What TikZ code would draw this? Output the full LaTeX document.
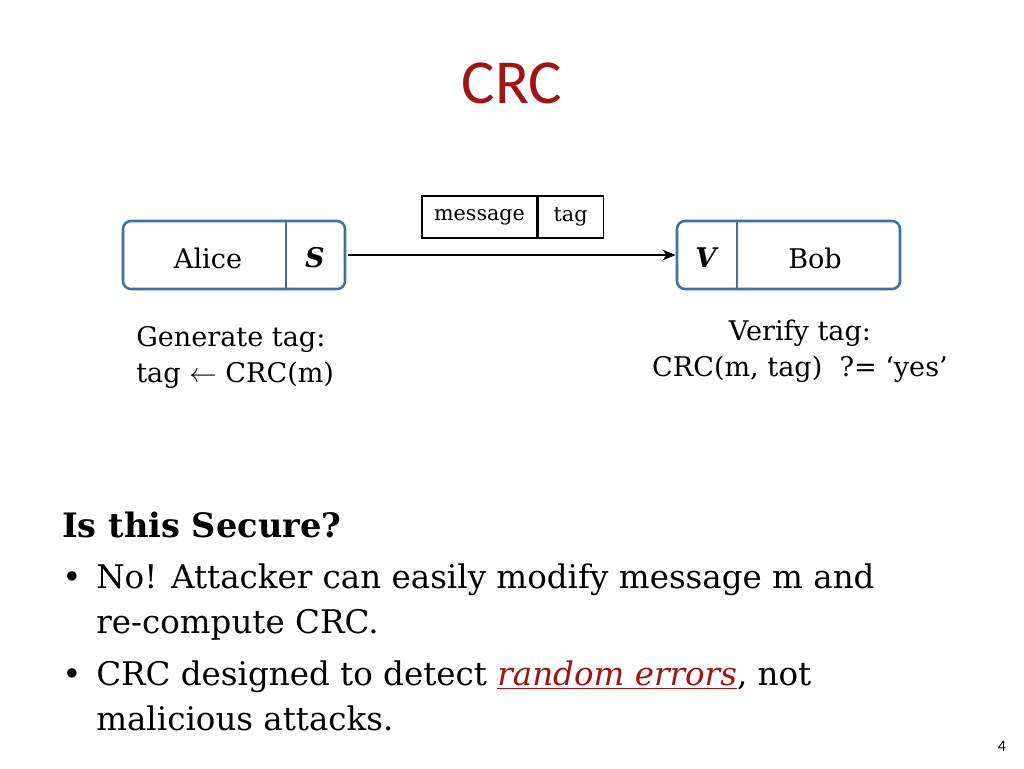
\documentclass[tikz,border=0pt]{standalone}
\usepackage{fontspec}
\setmainfont{DejaVu Serif}
\newfontfamily\titlefont{Carlito}
\usetikzlibrary{arrows.meta,positioning}
\definecolor{boxblue}{RGB}{62,112,160}
\definecolor{titlered}{RGB}{160,20,20}
\tikzset{
  party/.style={draw=boxblue,line width=1.9pt,rounded corners=6pt,fill=white},
  cell/.style={draw,line width=0.8pt,minimum height=31.5pt,inner sep=0pt,font=\fontsize{15.5}{18}\selectfont},
  lbl/.style={inner sep=0pt,font=\fontsize{20.3}{24}\selectfont},
  body/.style={inner sep=0pt,anchor=west,font=\fontsize{24.4}{29}\selectfont}
}
\begin{document}
\begin{tikzpicture}[x=0.75pt,y=-0.75pt]
  \useasboundingbox (0,0) rectangle (1024,768);
  \node[font=\titlefont\fontsize{47}{56}\selectfont,text=titlered] (title) at (512,83) {CRC};
  % sender and receiver
  \node[party,minimum width=222*0.75pt,minimum height=68*0.75pt] (alicebox) at (234,255) {};
  \draw[boxblue,line width=1.9pt] (286,221) -- (286,289);
  \node[lbl] (alice) at (208,258) {Alice};
  \node[lbl] (sign) at (315,258) {\textbf{\textit{S}}};
  \node[party,minimum width=223*0.75pt,minimum height=68*0.75pt] (bobbox) at (788.5,255) {};
  \draw[boxblue,line width=1.9pt] (737,221) -- (737,289);
  \node[lbl] (verify) at (707,258) {\textbf{\textit{V}}};
  \node[lbl] (bob) at (815,258) {Bob};
  \draw[line width=1.8pt,-{Stealth[length=10pt,width=8pt]}] (alicebox.east) ++(2,0) -- (bobbox.west);
  % packet
  \node[cell,minimum width=115*0.75pt] (msg) at (479.5,217) {message};
  \node[cell,minimum width=65*0.75pt,right=0pt of msg] (tag) {tag};
  % annotations
  \node[lbl,anchor=west,align=left] (gen) at (136,357) {Generate tag:\\[3pt] tag $\leftarrow$ CRC(m)};
  \node[lbl,align=center] (ver) at (800,351) {Verify tag:\\[3pt] CRC(m, tag)\ \ ?= `yes'};
  % discussion
  \node[body,font=\bfseries\fontsize{25.2}{30}\selectfont] (q) at (62,525) {Is this Secure?};
  \node[body] (d1) at (62,580) {\textbullet};
  \node[body] (b1) at (96,580) {No! Attacker can easily modify message m and};
  \node[body] (b1b) at (96,625) {re-compute CRC.};
  \node[body] (d2) at (62,677) {\textbullet};
  \node[body] (b2) at (96,677) {CRC designed to detect \textcolor{titlered}{\underline{\textit{random errors}}}, not};
  \node[body] (b2b) at (96,718) {malicious attacks.};
  \node[font=\titlefont\fontsize{12}{14}\selectfont] (page) at (1002,746) {4};
\end{tikzpicture}
\end{document}
